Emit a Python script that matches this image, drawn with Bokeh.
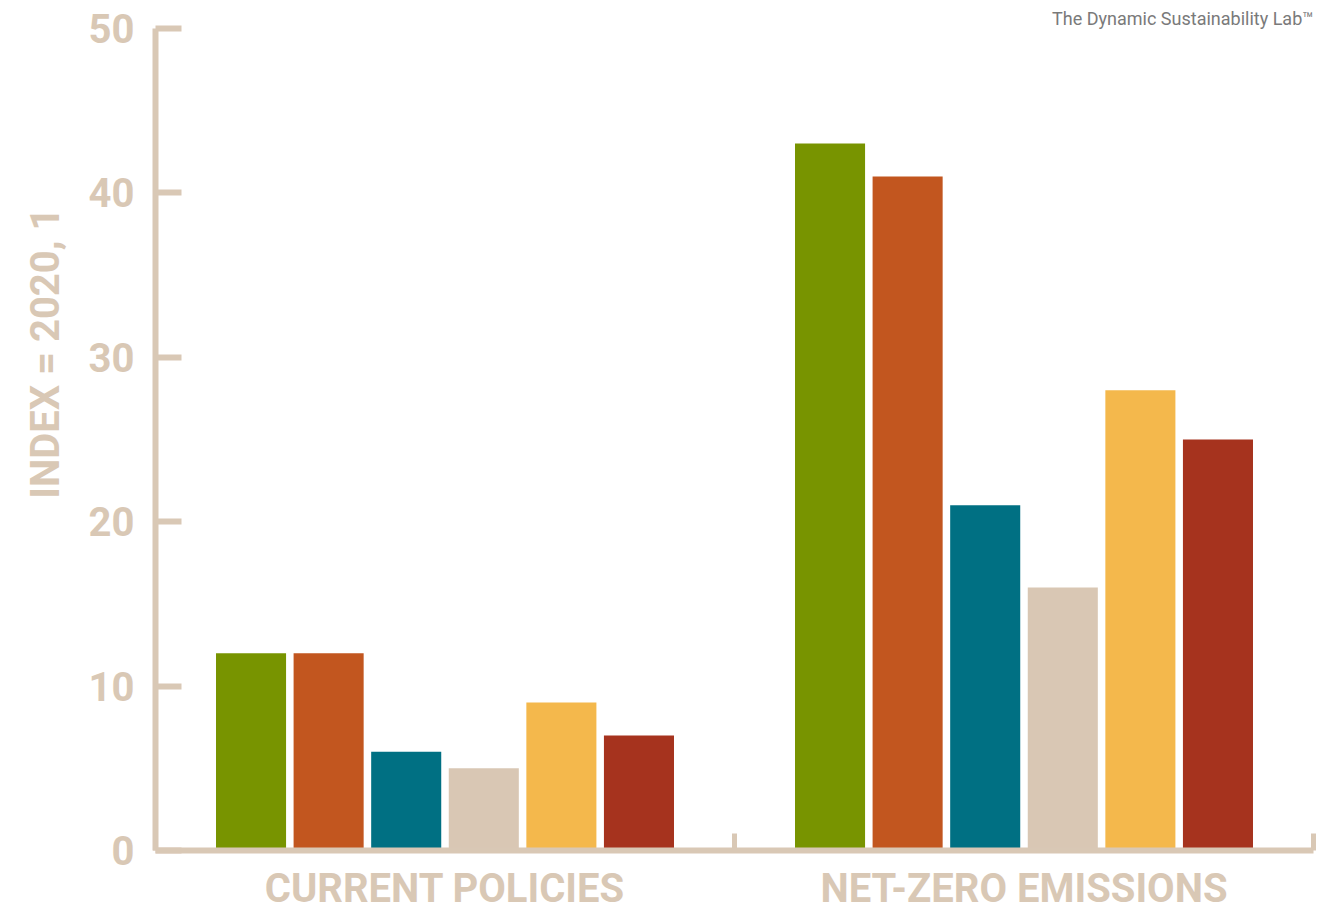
from bokeh.plotting import figure
from bokeh.models import Range1d, FixedTicker, Title
from bokeh.embed import file_html
from bokeh.resources import INLINE

# ---- data ----
groups = ["CURRENT POLICIES", "NET-ZERO EMISSIONS"]
series_1 = [12, 43]
series_2 = [12, 41]
series_3 = [6, 21]
series_4 = [5, 16]
series_5 = [9, 28]
series_6 = [7, 25]
series = [series_1, series_2, series_3, series_4, series_5, series_6]
colors = ["#789400", "#c2561f", "#007083", "#d9c7b4", "#f4b84c", "#a6331e"]
y_ticks = [0, 10, 20, 30, 40, 50]
y_axis_title = "INDEX = 2020, 1"
credit = "The Dynamic Sustainability Lab\u2122"

AXIS = "#d9c8b5"
FONT = "Roboto"
BIG = "40px"

p = figure(width=1317, height=914, output_backend="svg", toolbar_location=None,
           x_range=Range1d(0, len(groups)), y_range=Range1d(0, 50),
           min_border_left=155, min_border_right=4, min_border_top=28, min_border_bottom=64)
p.outline_line_color = None
p.grid.visible = False
p.background_fill_color = "white"
p.border_fill_color = "white"

centers = [i + 0.5 for i in range(len(groups))]
pitch = 0.134
bw = 0.121
for k, (vals, c) in enumerate(zip(series, colors)):
    off = (k - (len(series) - 1) / 2) * pitch
    p.vbar(x=[cx + off for cx in centers], top=vals, bottom=0, width=bw,
           fill_color=c, line_color=None)

# y axis
ya = p.yaxis[0]
ya.ticker = FixedTicker(ticks=y_ticks)
ya.axis_line_color = AXIS
ya.axis_line_width = 6
ya.major_tick_line_color = AXIS
ya.major_tick_line_width = 6
ya.major_tick_in = 26
ya.major_tick_out = 0
ya.minor_tick_line_color = None
ya.major_label_text_font = FONT
ya.major_label_text_font_size = BIG
ya.major_label_text_font_style = "bold"
ya.major_label_text_color = AXIS
ya.major_label_standoff = 21

# x axis
xa = p.xaxis[0]
xa.ticker = FixedTicker(ticks=centers, minor_ticks=list(range(len(groups) + 1)))
xa.major_label_overrides = {c: g for c, g in zip(centers, groups)}
xa.axis_line_color = AXIS
xa.axis_line_width = 6
xa.major_tick_line_color = None
xa.major_tick_in = 0
xa.major_tick_out = 0
xa.minor_tick_line_color = AXIS
xa.minor_tick_line_width = 5
xa.minor_tick_in = 17
xa.minor_tick_out = 0
xa.major_label_text_font = FONT
xa.major_label_text_font_size = BIG
xa.major_label_text_font_style = "bold"
xa.major_label_text_color = AXIS
xa.major_label_standoff = 14

# y axis title, placed along the left side
p.add_layout(Title(text=y_axis_title, align="right", offset=179, vertical_align="bottom",
                   standoff=34, text_font=FONT, text_font_size=BIG,
                   text_font_style="bold", text_color=AXIS), "left")

# credit line above the plot, right aligned
p.add_layout(Title(text=credit, align="right", standoff=0, text_font=FONT,
                   text_font_size="18px", text_font_style="normal",
                   text_color="#7a7a7a"), "above")

open("out.html", "w").write(file_html(p, INLINE))
